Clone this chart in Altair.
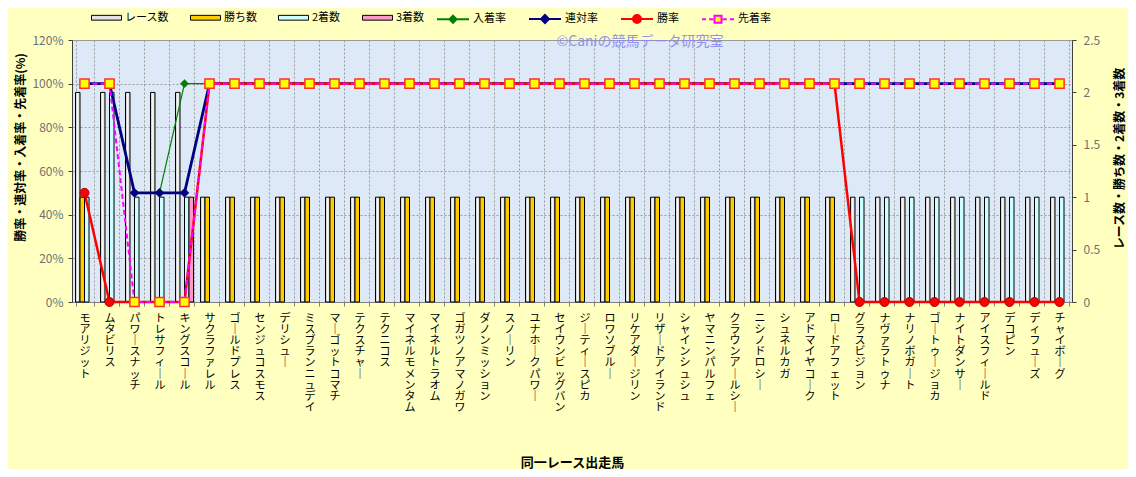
import altair as alt
import pandas as pd

horses = ["モアリジット", "ムタビリス", "パワースナッチ", "トレサフィール", "キングスコール",
          "サクラファレル", "ゴールドプレス", "センジュコスモス", "デリシュー", "ミスブランニュデイ",
          "マーゴットコマチ", "テクスチャー", "テクニコス", "マイネルモメンタム", "マイネルトラオム",
          "ゴガツノアマノガワ", "ダノンミッション", "スノーリン", "ユナホークパワー", "セイウンビッグバン",
          "ジーティースピカ", "ロワソブルー", "リケアダージリン", "リザードアイランド", "シャインシュシュ",
          "ヤマニンパルフェ", "クラウンアールシー", "ニシノドロシー", "シュネルカガ", "アドマイヤコーク",
          "ロードアフェット", "グラスビジョン", "ナヴァラトゥナ", "ナリノボガート", "ゴートゥージョカ",
          "ナイトダンサー", "アイスフィールド", "デコピン", "ディフューズ", "チャイボーグ"]

races   = [2, 2, 2, 2, 2, 1, 1, 1, 1, 1, 1, 1, 1, 1, 1, 1, 1, 1, 1, 1,
           1, 1, 1, 1, 1, 1, 1, 1, 1, 1, 1, 1, 1, 1, 1, 1, 1, 1, 1, 1]
wins    = [1, 0, 0, 0, 0, 1, 1, 1, 1, 1, 1, 1, 1, 1, 1, 1, 1, 1, 1, 1,
           1, 1, 1, 1, 1, 1, 1, 1, 1, 1, 1, 0, 0, 0, 0, 0, 0, 0, 0, 0]
seconds = [1, 2, 1, 1, 1, 0, 0, 0, 0, 0, 0, 0, 0, 0, 0, 0, 0, 0, 0, 0,
           0, 0, 0, 0, 0, 0, 0, 0, 0, 0, 0, 1, 1, 1, 1, 1, 1, 1, 1, 1]
thirds  = [0, 0, 0, 0, 1, 0, 0, 0, 0, 0, 0, 0, 0, 0, 0, 0, 0, 0, 0, 0,
           0, 0, 0, 0, 0, 0, 0, 0, 0, 0, 0, 0, 0, 0, 0, 0, 0, 0, 0, 0]

nyuchaku_rate = [100, 100, 50, 50, 100, 100, 100, 100, 100, 100, 100, 100, 100, 100, 100, 100, 100, 100, 100, 100,
                 100, 100, 100, 100, 100, 100, 100, 100, 100, 100, 100, 100, 100, 100, 100, 100, 100, 100, 100, 100]
rentai_rate   = [100, 100, 50, 50, 50, 100, 100, 100, 100, 100, 100, 100, 100, 100, 100, 100, 100, 100, 100, 100,
                 100, 100, 100, 100, 100, 100, 100, 100, 100, 100, 100, 100, 100, 100, 100, 100, 100, 100, 100, 100]
win_rate      = [50, 0, 0, 0, 0, 100, 100, 100, 100, 100, 100, 100, 100, 100, 100, 100, 100, 100, 100, 100,
                 100, 100, 100, 100, 100, 100, 100, 100, 100, 100, 100, 0, 0, 0, 0, 0, 0, 0, 0, 0]
senchaku_rate = [100, 100, 0, 0, 0, 100, 100, 100, 100, 100, 100, 100, 100, 100, 100, 100, 100, 100, 100, 100,
                 100, 100, 100, 100, 100, 100, 100, 100, 100, 100, 100, 100, 100, 100, 100, 100, 100, 100, 100, 100]

bar_series = ["レース数", "勝ち数", "2着数", "3着数"]
bar_colors = ["#e4e4e4", "#ffcc00", "#ccffff", "#ff99cc"]
line_series = ["入着率", "連対率", "勝率", "先着率"]
watermark = ["©Caniの競馬データ研究室"]

FONT = "Noto Sans CJK JP"

bar_rows = []
for i, h in enumerate(horses):
    for s, vals in zip(bar_series, [races, wins, seconds, thirds]):
        bar_rows.append({"horse": h, "idx": i, "series": s, "count": vals[i]})
bars_df = pd.DataFrame(bar_rows)

line_rows = []
for i, h in enumerate(horses):
    for s, vals in zip(line_series, [nyuchaku_rate, rentai_rate, win_rate, senchaku_rate]):
        line_rows.append({"horse": h, "idx": i, "series": s, "rate": vals[i]})
lines_df = pd.DataFrame(line_rows)

xscale = alt.Scale(domain=horses, paddingInner=0.28, paddingOuter=0.14)
xaxis = alt.Axis(
    title="同一レース出走馬", titleFontSize=13, titleFontWeight="bold", titleColor="black",
    titleY=160, titleBaseline="middle",
    labelAngle=0, labelExpr="split(replace(datum.label, regexp('ー', 'g'), '｜'), '')",
    labelFontSize=11, labelLineHeight=11.2, labelColor="black", labelBaseline="top",
    labelPadding=6, labelOverlap=False, tickSize=4, tickBand="extent",
    grid=True, gridDash=[2, 2], gridColor="#9a9a9a", domainColor="#808080", tickColor="#808080",
)
X = alt.X("horse:N", sort=horses, scale=xscale, axis=xaxis)

yR = alt.Y("count:Q", scale=alt.Scale(domain=[0, 2.5], nice=False),
           axis=alt.Axis(orient="right", values=[0, 0.5, 1, 1.5, 2, 2.5], format=".1~f",
                         title="レース数・勝ち数・2着数・3着数", titleAngle=270, titleX=47, titleY=118,
                         titleAlign="center", titleBaseline="middle", titleFontSize=12,
                         titleFontWeight="bold", titleColor="black",
                         labelColor="#707070", labelFontSize=12, labelPadding=7, tickSize=4,
                         grid=False, domainColor="#404040", tickColor="#404040"))

yL = alt.Y("rate:Q", scale=alt.Scale(domain=[0, 120], nice=False),
           axis=alt.Axis(orient="left", values=[0, 20, 40, 60, 80, 100, 120],
                         labelExpr="datum.value + '%'",
                         title="勝率・連対率・入着率・先着率(%)", titleAngle=270, titleX=-52, titleY=107,
                         titleAlign="center", titleBaseline="middle", titleFontSize=12,
                         titleFontWeight="bold", titleColor="black",
                         labelColor="#707070", labelFontSize=12, labelPadding=5, tickSize=4,
                         grid=True, gridDash=[2, 2], gridColor="#9a9a9a",
                         domainColor="#404040", tickColor="#404040"))

XO = alt.XOffset("series:N", sort=bar_series,
                 scale=alt.Scale(domain=bar_series, paddingInner=0, paddingOuter=0))

race_grad = alt.LinearGradient(
    gradient="linear", x1=0, x2=1, y1=0, y2=0,
    stops=[alt.GradientStop(color="#b8b8b8", offset=0),
           alt.GradientStop(color="#ffffff", offset=0.5),
           alt.GradientStop(color="#b8b8b8", offset=1)])

race_bars = (alt.Chart(bars_df)
             .transform_filter("datum.series == 'レース数' && datum.count > 0")
             .mark_bar(color=race_grad, stroke="black", strokeWidth=1)
             .encode(x=X, xOffset=XO, y=yR))

bar_legend = alt.Legend(
    title=None, orient="none", direction="horizontal", legendX=19, legendY=-38,
    symbolType="M-1,-0.16H1V0.16H-1Z", symbolSize=900, symbolStrokeColor="black",
    symbolStrokeWidth=1, labelFont=FONT, labelFontSize=11, labelColor="black",
    labelOffset=3, columnPadding=19, padding=0, gridAlign="each")

other_bars = (alt.Chart(bars_df)
              .transform_filter("datum.series != 'レース数' && datum.count > 0")
              .mark_bar(stroke="black", strokeWidth=1)
              .encode(x=X, xOffset=XO, y=yR,
                      color=alt.Color("series:N", sort=bar_series,
                                      scale=alt.Scale(domain=bar_series, range=bar_colors),
                                      legend=bar_legend)))

bars_layer = alt.layer(race_bars, other_bars)

shape_paths = [
    "M-1,0H1M0,-0.22L0.22,0L0,0.22L-0.22,0Z",
    "M-1,0H1M0,-0.25L0.25,0L0,0.25L-0.25,0Z",
    "M-1,0H1M-0.25,0A0.25,0.25,0,1,0,0.25,0A0.25,0.25,0,1,0,-0.25,0Z",
    "M-1,0H-0.75M-0.55,0H-0.3M0.3,0H0.55M0.75,0H1M-0.22,-0.22H0.22V0.22H-0.22Z",
]
line_legend = alt.Legend(
    title=None, orient="none", direction="horizontal", legendX=364, legendY=-38,
    symbolSize=1024, symbolStrokeWidth=2, symbolOpacity=1, labelFont=FONT, labelFontSize=11,
    labelColor="black", labelOffset=3, columnPadding=19, padding=0, gridAlign="each")

legend_layer = (alt.Chart(lines_df)
                .transform_filter("datum.rate < -1")
                .mark_point(filled=True, opacity=1, strokeWidth=2)
                .encode(x=X, y=yL,
                        shape=alt.Shape("series:N", sort=line_series,
                                        scale=alt.Scale(domain=line_series, range=shape_paths),
                                        legend=line_legend),
                        fill=alt.Fill("series:N", sort=line_series,
                                      scale=alt.Scale(domain=line_series,
                                                      range=["#008000", "#000080", "#ff0000", "#ffff00"]),
                                      legend=line_legend),
                        stroke=alt.Stroke("series:N", sort=line_series,
                                          scale=alt.Scale(domain=line_series,
                                                          range=["#008000", "#000080", "#ff0000", "#ff00ff"]),
                                          legend=line_legend)))


def line_layer(name, color, width, dash=None):
    kw = dict(stroke=color, strokeWidth=width)
    if dash:
        kw["strokeDash"] = dash
    return (alt.Chart(lines_df).transform_filter(alt.datum.series == name)
            .mark_line(**kw).encode(x=X, y=yL, order=alt.Order("idx:Q")))


def point_layer(name, shape, size, fill, stroke, sw):
    return (alt.Chart(lines_df).transform_filter(alt.datum.series == name)
            .mark_point(shape=shape, size=size, filled=True, fill=fill, stroke=stroke,
                        strokeWidth=sw, opacity=1)
            .encode(x=X, y=yL))


wm_layer = (alt.Chart(pd.DataFrame({"text": watermark}))
            .mark_text(font=FONT, fontSize=14, color="#8888f0", opacity=0.9,
                       align="center", baseline="middle")
            .encode(x=alt.value(568), y=alt.value(2), text="text:N"))

lines_layer = alt.layer(
    legend_layer,
    line_layer("入着率", "#008000", 1.2),
    point_layer("入着率", "diamond", 70, "#008000", "#008000", 0.5),
    line_layer("連対率", "#000080", 2.8),
    point_layer("連対率", "diamond", 80, "#000080", "#000080", 0.5),
    line_layer("勝率", "#ff0000", 2.5),
    point_layer("勝率", "circle", 80, "#ff0000", "#b00000", 1),
    line_layer("先着率", "#ff00ff", 2, [5, 3]),
    point_layer("先着率", "square", 85, "#ffff00", "#ff3030", 1.5),
    wm_layer,
)

chart = (alt.layer(bars_layer, lines_layer)
         .resolve_scale(y="independent")
         .properties(
             width=1000, height=262,
             autosize=alt.AutoSizeParams(type="none"),
             padding={"left": 64, "top": 32, "right": 56, "bottom": 167},
             background="#ffffc0")
         .configure_view(fill="#dde9f6", stroke="#9a9a9a")
         .configure_axis(labelFont=FONT, titleFont=FONT)
         .configure_legend(labelFont=FONT))

chart.save("out.html", embed_options={"renderer": "svg", "actions": False})
